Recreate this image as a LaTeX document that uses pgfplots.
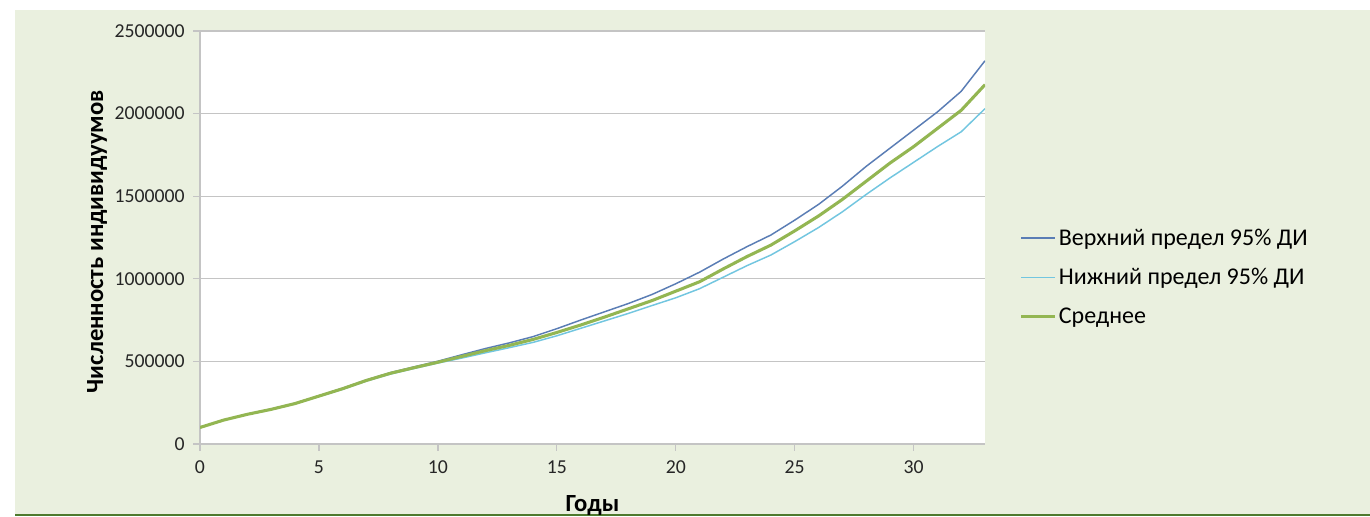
\documentclass[border=0pt]{standalone}
\usepackage{pgfplots}
\pgfplotsset{compat=1.18}
\usepackage{fontspec}
\setmainfont{Carlito}
\definecolor{bgG}{HTML}{EAF0DF}
\definecolor{lineG}{HTML}{4E7A2E}
\definecolor{upC}{HTML}{5A7DB5}
\definecolor{loC}{HTML}{72C6E0}
\definecolor{meanC}{HTML}{93B652}
\definecolor{gridC}{HTML}{C4C4C4}
\begin{document}
\begin{tikzpicture}
\useasboundingbox (0pt,0pt) rectangle (1027.5pt,387.75pt);
\fill[bgG] (11.25pt,1.5pt) rectangle (1027.5pt,380.25pt);
\draw[lineG, line width=1.6pt] (11.25pt,1.5pt) -- (1027.5pt,1.5pt);
\begin{axis}[
  at={(150pt,54.75pt)}, anchor=south west,
  scale only axis,
  width=588.75pt, height=309.75pt,
  xmin=0, xmax=33, ymin=0, ymax=2500000,
  xtick={0,5,10,15,20,25,30},
  ytick={0,500000,1000000,1500000,2000000,2500000},
  scaled y ticks=false,
  /pgf/number format/assume math mode=true,
  /pgf/number format/1000 sep={},
  /pgf/number format/fixed,
  axis background/.style={fill=white},
  ymajorgrids, grid style={gridC, line width=1pt},
  axis x line*=bottom, axis y line*=left,
  axis line style={gridC, line width=1pt},
  tick style={gridC, line width=1pt},
  tick align=outside, major tick length=5pt,
  ticklabel style={font=\fontsize{14.8}{17}\selectfont, text=black!85},
  xticklabel style={yshift=-4pt},
  yticklabel style={xshift=-3pt},
  xlabel={\textbf{Годы}},
  ylabel={\textbf{Численность индивидуумов}},
  label style={font=\fontsize{18.5}{21}\selectfont},
  xlabel style={at={(axis description cs:0.5,-0.15)}, anchor=center},
  ylabel style={at={(axis description cs:-0.131,0.49)}, anchor=center},
  legend style={at={(axis description cs:1.044,0.404)}, anchor=west, draw=none, fill=none,
    font=\fontsize{18}{21}\selectfont, row sep=11.8pt, inner sep=0pt},
  legend cell align=left,
  legend image code/.code={\draw[#1] (0pt,0pt) -- (25pt,0pt);},
]
\addplot[upC, line width=1.1pt] coordinates {
(0,100000)(1,145000)(2,181000)(3,212000)(4,247000)(5,292000)(6,338000)(7,388000)(8,432000)(9,467000)(10,501000)
(11,540000)(12,578000)(13,612000)(14,650000)(15,698000)(16,750000)(17,800000)(18,850000)(19,905000)(20,970000)
(21,1040000)(22,1120000)(23,1195000)(24,1265000)(25,1355000)(26,1450000)(27,1560000)(28,1680000)(29,1790000)(30,1900000)
(31,2010000)(32,2135000)(33,2320000)};
\addlegendentry{Верхний предел 95\% ДИ}
\addplot[loC, line width=1.1pt] coordinates {
(0,100000)(1,144000)(2,179000)(3,208000)(4,243000)(5,287000)(6,331000)(7,381000)(8,423000)(9,457000)(10,490000)
(11,520000)(12,552000)(13,583000)(14,615000)(15,655000)(16,700000)(17,745000)(18,790000)(19,838000)(20,885000)
(21,940000)(22,1010000)(23,1080000)(24,1144000)(25,1225000)(26,1310000)(27,1405000)(28,1510000)(29,1610000)(30,1705000)
(31,1800000)(32,1890000)(33,2030000)};
\addlegendentry{Нижний предел 95\% ДИ}
\addplot[meanC, line width=2.3pt] coordinates {
(0,100000)(1,145000)(2,180000)(3,210000)(4,245000)(5,290000)(6,335000)(7,385000)(8,428000)(9,462000)(10,495000)
(11,530000)(12,565000)(13,597000)(14,633000)(15,675000)(16,720000)(17,768000)(18,818000)(19,868000)(20,925000)
(21,982000)(22,1060000)(23,1135000)(24,1204000)(25,1290000)(26,1380000)(27,1480000)(28,1590000)(29,1700000)(30,1800000)
(31,1910000)(32,2020000)(33,2175000)};
\addlegendentry{Среднее}
\end{axis}
\end{tikzpicture}
\end{document}
